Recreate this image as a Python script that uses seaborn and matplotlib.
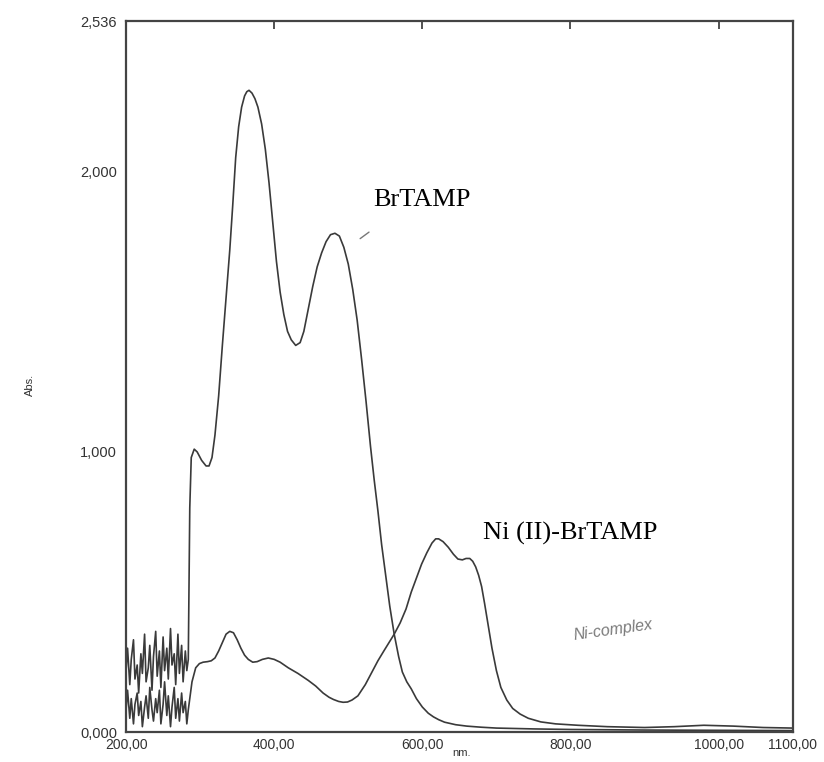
import matplotlib
matplotlib.use("Agg")
import matplotlib.pyplot as plt
import seaborn as sns
import pandas as pd

# --- noisy low-wavelength region (detector noise below ~285 nm) ---
noise_nm = [200, 202, 205, 207, 210, 212, 215, 217, 220, 222, 225, 227, 230, 232, 235,
            237, 240, 242, 245, 247, 250, 252, 255, 257, 260, 262, 265, 267, 270, 272,
            275, 277, 280, 282, 284]
brtamp_noise = [0.22, 0.30, 0.17, 0.26, 0.33, 0.19, 0.24, 0.14, 0.28, 0.21, 0.35, 0.18,
                0.23, 0.31, 0.15, 0.27, 0.36, 0.20, 0.29, 0.16, 0.34, 0.22, 0.30, 0.19,
                0.37, 0.24, 0.28, 0.17, 0.35, 0.21, 0.31, 0.18, 0.29, 0.22, 0.26]
ni_noise = [0.08, 0.15, 0.05, 0.12, 0.03, 0.10, 0.14, 0.06, 0.11, 0.02, 0.09, 0.13, 0.05,
            0.16, 0.08, 0.04, 0.12, 0.07, 0.15, 0.03, 0.10, 0.18, 0.06, 0.13, 0.02, 0.09,
            0.16, 0.05, 0.12, 0.04, 0.14, 0.07, 0.11, 0.03, 0.08]

# --- BrTAMP ligand spectrum ---
brtamp_nm = [286, 288, 292, 296, 302, 308, 312, 316, 320, 325, 330, 335, 340, 344, 348,
             352, 356, 360, 363, 366, 370, 374, 378, 383, 388, 393, 398, 403, 408, 413,
             418, 423, 429, 435, 440, 446, 452, 458, 464, 470, 476, 482, 488, 494, 500,
             506, 512, 518, 524, 530, 535, 540, 545, 551, 556, 562, 568, 573, 579, 585,
             592, 600, 608, 615, 622, 630, 645, 660, 680, 700, 750, 800, 900, 1000, 1100]
brtamp_abs = [0.80, 0.98, 1.01, 1.00, 0.97, 0.95, 0.95, 0.98, 1.06, 1.20, 1.38, 1.55,
              1.72, 1.88, 2.05, 2.16, 2.23, 2.27, 2.285, 2.29, 2.28, 2.26, 2.23, 2.17,
              2.08, 1.96, 1.82, 1.68, 1.57, 1.49, 1.43, 1.40, 1.38, 1.39, 1.43, 1.51,
              1.59, 1.66, 1.71, 1.75, 1.775, 1.78, 1.77, 1.73, 1.67, 1.58, 1.47, 1.33,
              1.18, 1.02, 0.90, 0.79, 0.67, 0.55, 0.45, 0.35, 0.27, 0.215, 0.18, 0.155,
              0.12, 0.09, 0.068, 0.055, 0.045, 0.036, 0.027, 0.022, 0.018, 0.015, 0.012,
              0.010, 0.008, 0.007, 0.006]

# --- Ni(II)-BrTAMP complex spectrum ---
ni_nm = [286, 289, 294, 299, 304, 310, 315, 320, 325, 330, 335, 340, 345, 350, 355, 360,
         365, 371, 377, 384, 392, 400, 408, 419, 432, 446, 456, 466, 474, 480, 487, 493,
         499, 505, 513, 523, 533, 540, 548, 555, 562, 570, 578, 585, 592, 599, 606, 613,
         618, 622, 628, 635, 642, 648, 654, 659, 664, 668, 672, 676, 680, 684, 689, 694,
         700, 706, 714, 722, 732, 743, 760, 780, 810, 850, 900, 940, 980, 1020, 1060, 1100]
ni_abs = [0.12, 0.18, 0.23, 0.245, 0.25, 0.252, 0.255, 0.265, 0.29, 0.32, 0.35, 0.36,
          0.355, 0.33, 0.30, 0.275, 0.26, 0.25, 0.252, 0.26, 0.265, 0.26, 0.25, 0.23,
          0.21, 0.185, 0.165, 0.14, 0.125, 0.117, 0.11, 0.107, 0.108, 0.115, 0.13, 0.17,
          0.22, 0.255, 0.29, 0.32, 0.35, 0.39, 0.44, 0.50, 0.55, 0.60, 0.64, 0.675, 0.69,
          0.69, 0.68, 0.66, 0.635, 0.618, 0.615, 0.62, 0.62, 0.61, 0.59, 0.56, 0.52, 0.46,
          0.38, 0.30, 0.22, 0.16, 0.115, 0.085, 0.065, 0.05, 0.037, 0.03, 0.025, 0.02,
          0.017, 0.02, 0.025, 0.022, 0.017, 0.015]

x_ticks = [200, 400, 600, 800, 1000, 1100]
x_tick_labels = ["200,00", "400,00", "600,00", "800,00", "1000,00", "1100,00"]
y_ticks = [0.0, 1.0, 2.0, 2.536]
y_tick_labels = ["0,000", "1,000", "2,000", "2,536"]

sns.set_style("white")
plt.rcParams["font.family"] = ["Liberation Sans", "DejaVu Sans"]

df_br = pd.DataFrame({"nm": noise_nm + brtamp_nm, "abs": brtamp_noise + brtamp_abs})
df_ni = pd.DataFrame({"nm": noise_nm + ni_nm, "abs": ni_noise + ni_abs})

fig = plt.figure(figsize=(8.24, 7.62), dpi=100)
ax = fig.add_axes([0.153, 0.039, 0.809, 0.933])

line_color = "#3a3a3a"
sns.lineplot(data=df_br, x="nm", y="abs", ax=ax, color=line_color, lw=1.2,
             sort=False, estimator=None)
sns.lineplot(data=df_ni, x="nm", y="abs", ax=ax, color=line_color, lw=1.2,
             sort=False, estimator=None)

ax.set_xlim(200, 1100)
ax.set_ylim(0, 2.536)
ax.set_xticks(x_ticks)
ax.set_xticklabels(x_tick_labels)
ax.set_yticks(y_ticks)
ax.set_yticklabels(y_tick_labels)
ax.set_xlabel("")
ax.set_ylabel("")
ax.tick_params(axis="x", direction="in", length=6, width=1.2, color="#333",
               labelsize=10, pad=4, top=True, labelcolor="#333")
ax.tick_params(axis="y", direction="inout", length=7, width=1.2, color="#333",
               labelsize=10.5, pad=3, labelcolor="#333")

for side in ax.spines.values():
    side.set_visible(True)
    side.set_color("#444")
    side.set_linewidth(1.6)

# peak labels
ax.text(533, 1.90, "BrTAMP", family="Liberation Serif", fontsize=19,
        va="center", ha="left", color="black")
ax.annotate("", xy=(513, 1.755), xytext=(531, 1.79),
            arrowprops=dict(arrowstyle="-", color="#777", lw=1.0))
ax.text(682, 0.71, "Ni (II)-BrTAMP", family="Liberation Serif", fontsize=19,
        va="center", ha="left", color="black")
ax.text(803, 0.365, "Ni-complex", fontsize=11.5, style="italic", color="#7a7a7a",
        rotation=8, va="center", ha="left")

fig.text(30 / 824, 1 - 385 / 762, "Abs.", rotation=90, fontsize=8,
         ha="center", va="center", color="#333")
fig.text(462 / 824, 1 - 753 / 762, "nm.", fontsize=8, ha="center", va="center",
         color="#333")

fig.savefig("out.png", dpi=100, facecolor="white")
